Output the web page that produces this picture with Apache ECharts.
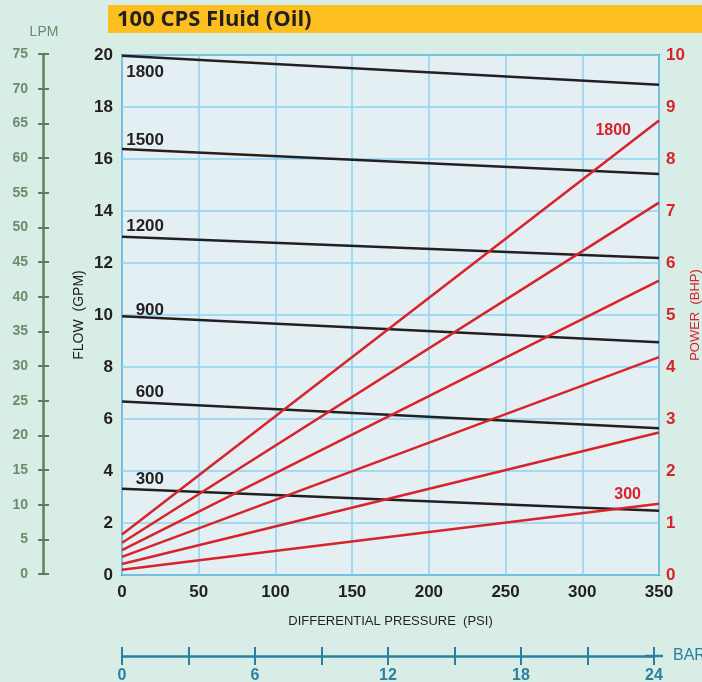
<!DOCTYPE html>
<html><head><meta charset="utf-8">
<script src="https://cdn.jsdelivr.net/npm/echarts@6/dist/echarts.min.js"></script>
<style>html,body{margin:0;padding:0;background:#d7ede6;}#c{width:702px;height:682px;}</style>
</head><body><div id="c"></div>
<script>
// ---- data ----
const psi = [0, 350];
const rpmNames = ['300', '600', '900', '1200', '1500', '1800'];
const flow300 = [3.32, 2.47];
const flow600 = [6.67, 5.64];
const flow900 = [9.95, 8.95];
const flow1200 = [13.01, 12.19];
const flow1500 = [16.38, 15.42];
const flow1800 = [19.97, 18.86];
const power300 = [0.10, 1.37];
const power600 = [0.21, 2.74];
const power900 = [0.35, 4.19];
const power1200 = [0.48, 5.66];
const power1500 = [0.62, 7.16];
const power1800 = [0.78, 8.74];
const psiTicks = [0, 50, 100, 150, 200, 250, 300, 350];
const gpmTicks = [0, 2, 4, 6, 8, 10, 12, 14, 16, 18, 20];
const bhpTicks = [0, 1, 2, 3, 4, 5, 6, 7, 8, 9, 10];
const lpmTicks = [0, 5, 10, 15, 20, 25, 30, 35, 40, 45, 50, 55, 60, 65, 70, 75];
const barTicks = [0, 3, 6, 9, 12, 15, 18, 21, 24];
const barLabels = [0, 6, 12, 18, 24];

// ---- styles ----
const SANS = '"Liberation Sans",Arial,sans-serif';
const NUM = SANS;
const RED = '#d8232a', BLACK = '#231f20', TEAL = '#2b80a2', GREEN = '#5e7f5e', GREEN_T = '#6b8c6b';

const flows = [flow300, flow600, flow900, flow1200, flow1500, flow1800];
const powers = [power300, power600, power900, power1200, power1500, power1800];
// label placement (style only): [dx, dy] relative to the first point
const flowLabelPos = [[42, -9], [42, -9], [42, -6], [42, -10], [42, -9], [42, 17]];

function step(t) { return t[1] - t[0]; }

const series = [];
flows.forEach((arr, k) => {
  series.push({
    type: 'line', xAxisIndex: 0, yAxisIndex: 0, name: 'flow' + rpmNames[k],
    symbol: 'circle', symbolSize: 0, showSymbol: true, silent: true,
    lineStyle: { color: BLACK, width: 2.5 }, itemStyle: { color: BLACK },
    data: psi.map((p, i) => {
      const item = { value: [p, arr[i]] };
      if (i === 0) item.label = {
        show: true, formatter: rpmNames[k], position: flowLabelPos[k],
        align: 'right', verticalAlign: 'middle',
        fontFamily: SANS, fontWeight: 'bold', fontSize: 17, color: BLACK
      };
      return item;
    })
  });
});
const powerLabelPos = { 0: [-18, -9], 5: [-28, 10] };
powers.forEach((arr, k) => {
  series.push({
    type: 'line', xAxisIndex: 0, yAxisIndex: 1, name: 'power' + rpmNames[k],
    symbol: 'circle', symbolSize: 0, showSymbol: true, silent: true,
    lineStyle: { color: RED, width: 2.5 }, itemStyle: { color: RED },
    data: psi.map((p, i) => {
      const item = { value: [p, arr[i]] };
      if (i === psi.length - 1 && powerLabelPos[k]) item.label = {
        show: true, formatter: rpmNames[k], position: powerLabelPos[k],
        align: 'right', verticalAlign: 'middle',
        fontFamily: SANS, fontWeight: 'bold', fontSize: 16, color: RED
      };
      return item;
    })
  });
});

const chart = echarts.init(document.getElementById('c'), null, { renderer: 'canvas' });
chart.setOption({
  animation: false,
  backgroundColor: '#d7ede6',
  graphic: [
    { type: 'rect', shape: { x: 108, y: 5, width: 594, height: 28 }, style: { fill: '#fdbf1f' } },
    { type: 'text', x: 117, y: 20, style: { text: '100 CPS Fluid (Oil)', font: 'bold 22px "Open Sans", Lato, sans-serif', fill: BLACK, verticalAlign: 'middle' } },
    { type: 'text', x: 44, y: 32, style: { text: 'LPM', font: '14px ' + SANS, fill: GREEN_T, align: 'center', verticalAlign: 'middle' } }
  ],
  grid: [
    { left: 122, top: 55, width: 537, height: 520, show: true, backgroundColor: '#e3eff3', borderColor: '#2f84a3', borderWidth: 2, z: 0, outerBoundsMode: 'none', containLabel: false },
    { left: 43, top: 54, width: 6, height: 520, outerBoundsMode: 'none', containLabel: false },
    { left: 122, top: 647, width: 532, height: 9, outerBoundsMode: 'none', containLabel: false }
  ],
  xAxis: [
    {
      type: 'value', gridIndex: 0, min: psiTicks[0], max: psiTicks[psiTicks.length - 1], interval: step(psiTicks),
      axisLine: { show: false }, axisTick: { show: false },
      splitLine: { show: true, lineStyle: { color: '#8fd3f0', width: 1.5 } },
      axisLabel: { margin: 9, fontFamily: NUM, fontWeight: 'bold', fontSize: 17, color: BLACK },
      name: 'DIFFERENTIAL PRESSURE  (PSI)', nameLocation: 'middle', nameGap: 40, nameMoveOverlap: false,
      nameTextStyle: { fontFamily: SANS, fontSize: 13, color: BLACK }
    },
    { type: 'value', gridIndex: 1, show: false, min: 0, max: 1 },
    {
      type: 'value', gridIndex: 2, position: 'bottom', min: barTicks[0], max: barTicks[barTicks.length - 1], interval: step(barTicks),
      axisLine: { show: true, symbol: ['none', 'rect'], symbolSize: [2.5, 18], lineStyle: { color: TEAL, width: 2.5 } },
      axisTick: { show: true, length: 9, lineStyle: { color: TEAL, width: 2 } },
      splitLine: { show: true, lineStyle: { color: TEAL, width: 2 } },
      axisLabel: {
        margin: 12, fontFamily: NUM, fontWeight: 'bold', fontSize: 16, color: TEAL,
        formatter: v => (barLabels.indexOf(v) >= 0 ? String(v) : '')
      },
      name: 'BAR', nameLocation: 'end', nameGap: 19,
      nameTextStyle: { fontFamily: SANS, fontSize: 16, color: TEAL }
    }
  ],
  yAxis: [
    {
      type: 'value', gridIndex: 0, min: gpmTicks[0], max: gpmTicks[gpmTicks.length - 1], interval: step(gpmTicks),
      axisLine: { show: false }, axisTick: { show: false },
      splitLine: { show: true, lineStyle: { color: '#8fd3f0', width: 1.5 } },
      axisLabel: { margin: 9, fontFamily: NUM, fontWeight: 'bold', fontSize: 17, color: BLACK },
      name: 'FLOW  (GPM)', nameLocation: 'middle', nameGap: 36, nameMoveOverlap: false,
      nameTextStyle: { fontFamily: SANS, fontSize: 14, color: BLACK }
    },
    {
      type: 'value', gridIndex: 0, position: 'right', min: bhpTicks[0], max: bhpTicks[bhpTicks.length - 1], interval: step(bhpTicks),
      axisLine: { show: false }, axisTick: { show: false }, splitLine: { show: false },
      axisLabel: { margin: 7, fontFamily: NUM, fontWeight: 'bold', fontSize: 17, color: RED },
      name: 'POWER  (BHP)', nameLocation: 'middle', nameGap: 30, nameMoveOverlap: false,
      nameTextStyle: { fontFamily: SANS, fontSize: 13, color: RED }
    },
    {
      type: 'value', gridIndex: 1, position: 'left', min: lpmTicks[0], max: lpmTicks[lpmTicks.length - 1], interval: step(lpmTicks),
      axisLine: { show: true, lineStyle: { color: GREEN, width: 2.5 } },
      axisTick: { show: true, length: 5, lineStyle: { color: GREEN, width: 2 } },
      splitLine: { show: true, lineStyle: { color: GREEN, width: 2 } },
      axisLabel: { margin: 15, fontFamily: NUM, fontWeight: 'bold', fontSize: 14, color: GREEN_T }
    },
    { type: 'value', gridIndex: 2, show: false, min: 0, max: 1 }
  ],
  series: series
});
</script>
</body></html>
